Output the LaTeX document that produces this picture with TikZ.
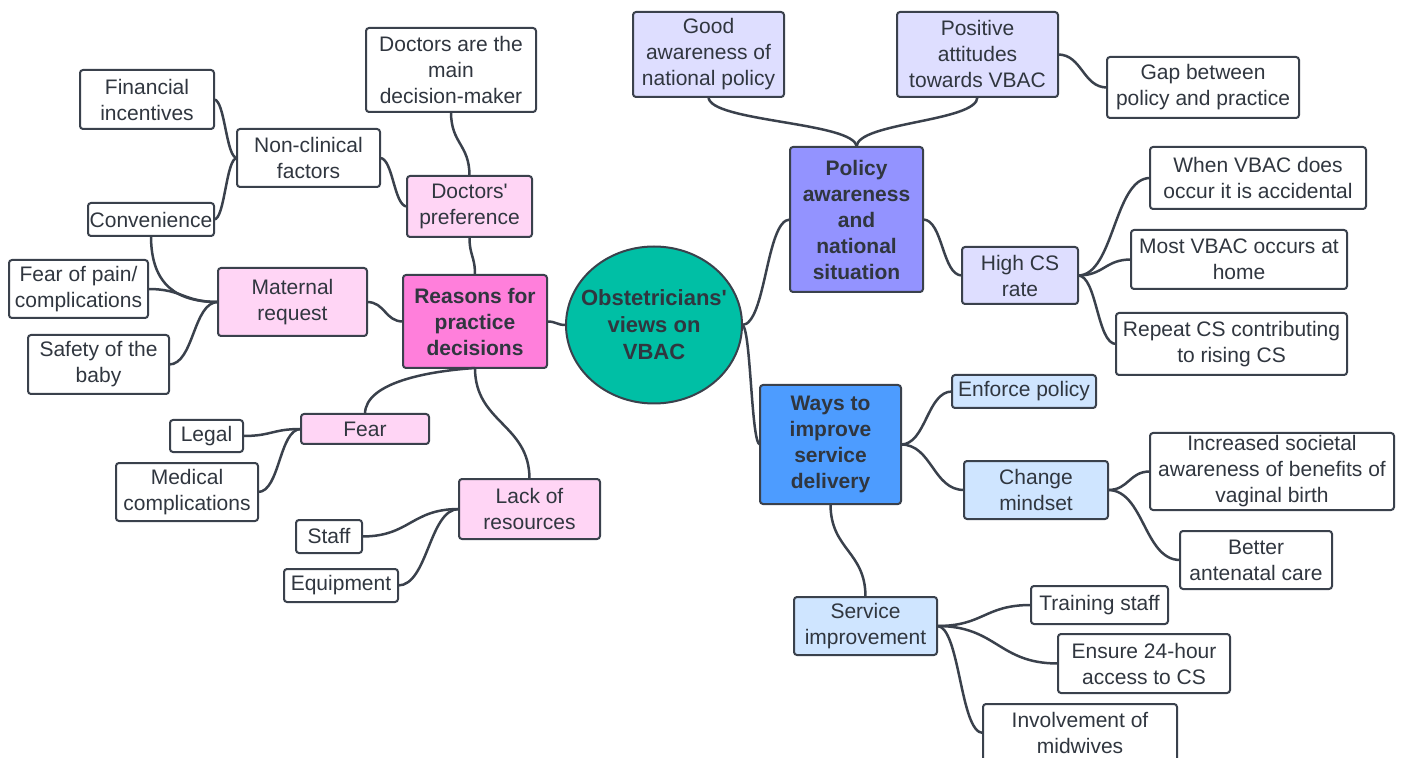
\documentclass[tikz,border=0pt]{standalone}
\usepackage{fontspec}
\setmainfont{Liberation Sans}
\usetikzlibrary{shapes.geometric}
\definecolor{edgec}{HTML}{3A414C}
\definecolor{txtc}{HTML}{30363F}
\definecolor{tealc}{HTML}{00BFA5}
\definecolor{pinkc}{HTML}{FF7FDB}
\definecolor{lpinkc}{HTML}{FFD5F5}
\definecolor{purpc}{HTML}{9393FF}
\definecolor{lavc}{HTML}{DEDEFF}
\definecolor{bluec}{HTML}{4D9CFF}
\definecolor{lbluec}{HTML}{CFE5FF}
\newcommand\mmbox[7]{%
  \pgfmathsetmacro\mmw{(#5-#3)*0.5}%
  \pgfmathsetmacro\mmh{(#6-#4)*0.5}%
  \node[#1, minimum width=\mmw pt, minimum height=\mmh pt] (#2) at ({(#3+#5)/2},{(#4+#6)/2}) {#7};}
\tikzset{
  bx/.style={draw=edgec, line width=1pt, rounded corners=1.5pt, align=center,
    inner sep=0pt, outer sep=0pt, text=txtc, font=\fontsize{10.5}{13}\selectfont},
  wh/.style={bx, fill=white},
  lpink/.style={bx, fill=lpinkc},
  pinkb/.style={bx, fill=pinkc, font=\fontsize{10.5}{13}\selectfont\bfseries},
  lav/.style={bx, fill=lavc},
  purpb/.style={bx, fill=purpc, font=\fontsize{10.5}{13}\selectfont\bfseries},
  lblue/.style={bx, fill=lbluec},
  blueb/.style={bx, fill=bluec, font=\fontsize{10.5}{13}\selectfont\bfseries},
  conn/.style={draw=edgec, line width=1.25pt},
}
\begin{document}
\begin{tikzpicture}[x=0.5pt,y=-0.5pt]
\useasboundingbox (0,0) rectangle (1406,758);
% centre
\node[ellipse, draw=edgec, line width=1pt, fill=tealc, minimum width=88pt, minimum height=78.5pt,
  inner sep=0pt, outer sep=0pt] (ell) at (654,325) {};
\node[align=center, inner sep=0pt, text=txtc, font=\fontsize{11}{13.5}\selectfont\bfseries]
  (ellt) at (ell.center) {Obstetricians\textquotesingle\\views on\\VBAC};
% left side
\mmbox{pinkb}{reas}{403}{275}{547}{368}{Reasons for\\practice\\decisions}
\mmbox{wh}{doc}{366}{28}{536}{112}{Doctors are the\\main\\decision-maker}
\mmbox{wh}{fin}{80}{70}{214}{129}{Financial\\incentives}
\mmbox{wh}{non}{237}{129}{380}{187}{Non-clinical\\factors}
\mmbox{lpink}{pref}{407}{176}{532}{237}{Doctors\textquotesingle\\preference}
\mmbox{wh}{conv}{88}{203}{214}{236}{Convenience}
\mmbox{wh}{fop}{9}{260}{148}{318}{Fear of pain/\\complications}
\mmbox{lpink}{mat}{218}{268}{367}{336}{Maternal\\request}
\mmbox{wh}{saf}{28}{335}{169}{394}{Safety of the\\baby}
\mmbox{lpink}{fear}{301}{414}{429}{444}{Fear}
\mmbox{wh}{legal}{170}{420}{243}{452}{Legal}
\mmbox{wh}{med}{116}{463}{258}{521}{Medical\\complications}
\mmbox{lpink}{lack}{459}{479}{600}{539}{Lack of\\resources}
\mmbox{wh}{staff}{296}{520}{362}{553}{Staff}
\mmbox{wh}{equip}{284}{569}{398}{602}{Equipment}
% right side
\mmbox{lav}{good}{633}{12}{784}{97}{Good\\awareness of\\national policy}
\mmbox{lav}{pos}{897}{12}{1058}{97}{Positive\\attitudes\\towards VBAC}
\mmbox{wh}{gap}{1107}{57}{1299}{118}{Gap between\\policy and practice}
\mmbox{purpb}{pol}{790}{147}{923}{292}{Policy\\awareness\\and\\national\\situation}
\mmbox{wh}{when}{1150}{147}{1366}{209}{When VBAC does\\occur it is accidental}
\mmbox{lav}{hcs}{962}{247}{1078}{304}{High CS\\rate}
\mmbox{wh}{most}{1131}{230}{1347}{289}{Most VBAC occurs at\\home}
\mmbox{wh}{rep}{1116}{313}{1347}{375}{Repeat CS contributing\\to rising CS}
\mmbox{lblue}{enf}{952}{375}{1096}{408}{Enforce policy}
\mmbox{blueb}{ways}{760}{385}{901}{504}{Ways to\\improve\\service\\delivery}
\mmbox{lblue}{chg}{964}{461}{1108}{519}{Change\\mindset}
\mmbox{wh}{inc}{1150}{433}{1394}{510}{Increased societal\\awareness of benefits of\\vaginal birth}
\mmbox{wh}{bet}{1180}{531}{1332}{589}{Better\\antenatal care}
\mmbox{lblue}{svc}{794}{597}{937}{655}{Service\\improvement}
\mmbox{wh}{trn}{1031}{586}{1168}{624}{Training staff}
\mmbox{wh}{ens}{1058}{634}{1230}{693}{Ensure 24-hour\\access to CS}
\mmbox{wh}{inv}{983}{704}{1177}{762}{Involvement of\\midwives}
% connectors
\draw[conn] (reas.east) .. controls +(10,0) and +(-10,0) .. (ell.west);
\draw[conn] (ell.east) .. controls +(24,0) and +(-24,0) .. (pol.west);
\draw[conn] (ell.east) .. controls +(9,0) and +(-9,0) .. (ways.west);
\draw[conn] (pol.north) .. controls +(0,-25) and +(0,25) .. (good.south);
\draw[conn] (pol.north) .. controls +(0,-25) and +(0,25) .. (pos.south);
\draw[conn] (pos.east) .. controls +(24,0) and +(-24,0) .. (gap.west);
\draw[conn] (pol.east) .. controls +(20,0) and +(-20,0) .. (hcs.west);
\draw[conn] (hcs.east) .. controls +(36,0) and +(-36,0) .. (when.west);
\draw[conn] (hcs.east) .. controls +(26,0) and +(-26,0) .. (most.west);
\draw[conn] (hcs.east) .. controls +(19,0) and +(-19,0) .. (rep.west);
\draw[conn] (ways.east) .. controls +(25,0) and +(-25,0) .. (enf.west);
\draw[conn] (ways.east) .. controls +(31,0) and +(-31,0) .. (chg.west);
\draw[conn] (chg.east) .. controls +(21,0) and +(-21,0) .. (inc.west);
\draw[conn] (chg.east) .. controls +(36,0) and +(-36,0) .. (bet.west);
\draw[conn] (ways.south) .. controls +(0,46) and +(0,-46) .. (svc.north);
\draw[conn] (svc.east) .. controls +(47,0) and +(-47,0) .. (trn.west);
\draw[conn] (svc.east) .. controls +(60,0) and +(-60,0) .. (ens.west);
\draw[conn] (svc.east) .. controls +(23,0) and +(-23,0) .. (inv.west);
\draw[conn] (reas.north) .. controls +(0,-19) and +(0,19) .. (pref.south);
\draw[conn] (pref.north) .. controls +(0,-32) and +(0,32) .. (doc.south);
\draw[conn] (pref.west) .. controls +(-13,0) and +(13,0) .. (non.east);
\draw[conn] (non.west) .. controls +(-11,0) and +(11,0) .. (fin.east);
\draw[conn] (non.west) .. controls +(-11,0) and +(11,0) .. (conv.east);
\draw[conn] (reas.west) .. controls +(-18,0) and +(18,0) .. (mat.east);
\draw[conn] (mat.west) .. controls +(-40,0) and +(0,50) .. (conv.south);
\draw[conn] (mat.west) .. controls +(-35,0) and +(35,0) .. (fop.east);
\draw[conn] (mat.west) .. controls +(-25,0) and +(25,0) .. (saf.east);
\draw[conn] (reas.south) .. controls +(-45,3) and +(0,-32) .. (fear.north);
\draw[conn] (reas.south) .. controls +(0,55) and +(0,-55) .. (lack.north);
\draw[conn] (fear.west) .. controls +(-29,0) and +(29,0) .. (legal.east);
\draw[conn] (fear.west) .. controls +(-22,0) and +(22,0) .. (med.east);
\draw[conn] (lack.west) .. controls +(-48,0) and +(48,0) .. (staff.east);
\draw[conn] (lack.west) .. controls +(-30,0) and +(30,0) .. (equip.east);
\end{tikzpicture}
\end{document}
